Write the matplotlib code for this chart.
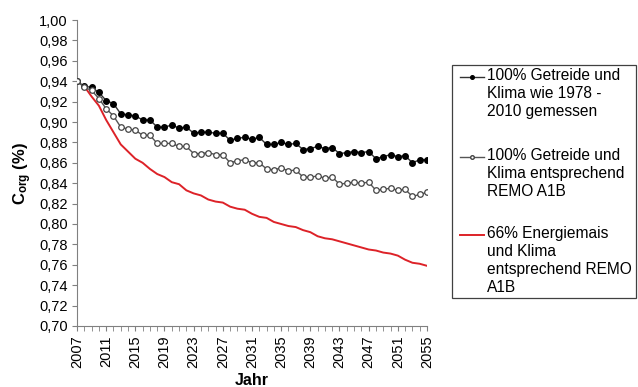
import numpy as np
import matplotlib
matplotlib.use("Agg")
import matplotlib.pyplot as plt
from matplotlib.ticker import MultipleLocator, FuncFormatter
from matplotlib.lines import Line2D
from matplotlib.patches import Rectangle

plt.rcParams['font.family'] = ['Liberation Sans', 'DejaVu Sans']
plt.rcParams['mathtext.fontset'] = 'custom'
plt.rcParams['mathtext.rm'] = 'Liberation Sans'
plt.rcParams['mathtext.bf'] = 'Liberation Sans:bold'

# data
years = list(range(2007, 2056))

getreide_gemessen = [0.940, 0.935, 0.934, 0.929, 0.921, 0.918, 0.908, 0.907, 0.906, 0.902,
                     0.902, 0.895, 0.895, 0.897, 0.894, 0.895, 0.889, 0.890, 0.890, 0.889,
                     0.889, 0.882, 0.884, 0.885, 0.883, 0.885, 0.878, 0.878, 0.880, 0.878,
                     0.879, 0.873, 0.874, 0.876, 0.874, 0.875, 0.869, 0.870, 0.871, 0.870,
                     0.871, 0.864, 0.866, 0.868, 0.866, 0.867, 0.860, 0.863, 0.863]

getreide_remo = [0.940, 0.934, 0.931, 0.923, 0.913, 0.906, 0.895, 0.893, 0.892, 0.887,
                 0.887, 0.879, 0.879, 0.879, 0.876, 0.876, 0.869, 0.869, 0.870, 0.868,
                 0.868, 0.860, 0.862, 0.863, 0.860, 0.860, 0.854, 0.853, 0.855, 0.852,
                 0.853, 0.846, 0.846, 0.847, 0.845, 0.846, 0.839, 0.840, 0.841, 0.840,
                 0.841, 0.833, 0.834, 0.835, 0.833, 0.834, 0.827, 0.829, 0.831]

# red series starts in 2008
energiemais_years = years[1:]
energiemais_remo = [0.935, 0.925, 0.916, 0.902, 0.890, 0.878, 0.871, 0.864, 0.860,
                    0.854, 0.849, 0.846, 0.841, 0.839, 0.833, 0.830, 0.828, 0.824, 0.822,
                    0.821, 0.817, 0.815, 0.814, 0.810, 0.807, 0.806, 0.802, 0.800, 0.798,
                    0.797, 0.794, 0.792, 0.788, 0.786, 0.785, 0.783, 0.781, 0.779, 0.777,
                    0.775, 0.774, 0.772, 0.771, 0.769, 0.765, 0.762, 0.761, 0.759]

labels = ["100% Getreide und\nKlima wie 1978 -\n2010 gemessen",
          "100% Getreide und\nKlima entsprechend\nREMO A1B",
          "66% Energiemais\nund Klima\nentsprechend REMO\nA1B"]

W, H = 638, 387
fig = plt.figure(figsize=(W / 100, H / 100), dpi=100)
ax = fig.add_axes([77 / W, 61 / H, 350 / W, 306 / H])

l3, = ax.plot(energiemais_years, energiemais_remo, color='#dd2228', lw=1.4, zorder=2)
l1, = ax.plot(years, getreide_gemessen, color='#333333', lw=1, marker='o', ms=4,
              mfc='black', mec='black', zorder=3)
l2, = ax.plot(years, getreide_remo, color='#555555', lw=1, marker='o', ms=4,
              mfc='white', mec='#444444', mew=0.9, zorder=4)

ax.set_xlim(2007, 2055)
ax.set_ylim(0.70, 1.00)
ax.yaxis.set_major_locator(MultipleLocator(0.02))
ax.yaxis.set_major_formatter(FuncFormatter(lambda v, p: ('%.2f' % v).replace('.', ',')))
ax.set_xticks(years[::4])
ax.xaxis.set_minor_locator(MultipleLocator(1))
ax.tick_params(axis='x', labelrotation=90)
ax.tick_params(which='both', direction='out', length=3.5, color='#808080', labelsize=10.5, pad=3)

for s in ['top', 'right']:
    ax.spines[s].set_visible(False)
for s in ['left', 'bottom']:
    ax.spines[s].set_color('#808080')

ax.set_ylabel(r'$\mathbf{C_{org}}$ (%)', fontsize=12, fontweight='bold', labelpad=4)
ax.set_xlabel('Jahr', fontsize=11.5, fontweight='bold', labelpad=4)

# legend drawn Excel-style: sample line beside the first text line of each entry
def px(x, y):
    return x / W, 1 - y / H

x0, y0 = px(452, 65)
x1, y1 = px(636, 298)
fig.patches.append(Rectangle((x0, y1), x1 - x0, y0 - y1, transform=fig.transFigure,
                             fill=False, edgecolor='#404040', lw=0.9))
entry_y = [77, 157, 235]
for line, lab, yy in zip([l1, l2, l3], labels, entry_y):
    xa, ya = px(460, yy)
    xb, _ = px(484, yy)
    fig.add_artist(Line2D([xa, xb], [ya, ya], transform=fig.transFigure,
                          color=line.get_color(), lw=line.get_linewidth()))
    if line.get_marker() != 'None':
        fig.add_artist(Line2D([(xa + xb) / 2], [ya], transform=fig.transFigure,
                              marker='o', ms=2.6, mfc=line.get_markerfacecolor(),
                              mec=line.get_markeredgecolor(), lw=0))
    tx, ty = px(487, yy - 9)
    fig.text(tx, ty, lab, fontsize=11.2, va='top', ha='left', linespacing=1.25)

fig.savefig('out.png', dpi=100)
